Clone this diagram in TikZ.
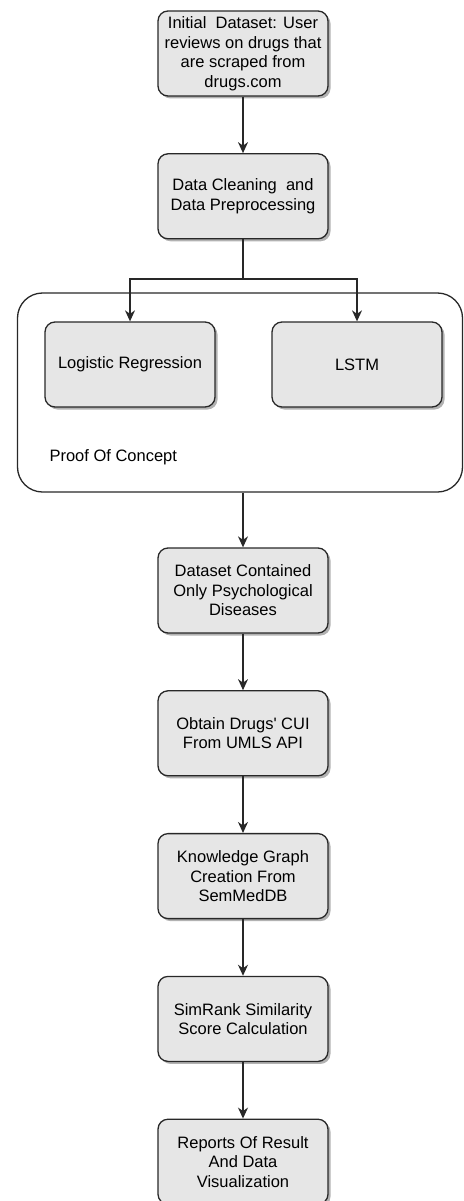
\documentclass[tikz,border=0pt]{standalone}
\usepackage{fontspec}
\setmainfont{Liberation Sans}
\usetikzlibrary{arrows.meta, positioning, shadows}
\definecolor{boxfill}{RGB}{230, 230, 230}
\definecolor{boxline}{RGB}{40, 40, 40}

\begin{document}
\begin{tikzpicture}[
            x=1pt, y=-1pt,
            node distance=56.5pt,
            block/.style={rectangle, rounded corners=10pt, draw=boxline, line width=1.3pt,
                          fill=boxfill, minimum width=170pt, minimum height=85pt,
                          inner sep=2pt, align=center,
                          font=\fontsize{16.5}{19.5}\selectfont,
                          drop shadow={shadow xshift=2.5pt, shadow yshift=-2.5pt,
                                       fill=black, opacity=0.3}},
            group/.style={rectangle, rounded corners=25pt, draw=boxline, line width=1.3pt,
                          minimum width=445pt, minimum height=199pt},
            arrow/.style={-{Stealth[length=11pt, width=10pt, inset=3.5pt]}, line width=1.3pt, draw=boxline},
        ]
            \useasboundingbox (0,0) rectangle (463,1201);
            \node[block] (data) at (243,53.5) {Initial\ \ Dataset: User\\reviews on drugs that\\are scraped from\\drugs.com};
            \node[block, below=of data] (clean) {Data Cleaning\ \ and\\Data Preprocessing};
            
            \node[group] (poc) at (240,392.5) {};
            \node[block] (logreg) at (130,364.5) {Logistic Regression};
            \node[block] (lstm) at (357,364.5) {LSTM};
            \node[anchor=west, font=\fontsize{16.5}{19.5}\selectfont] (poclabel) at (46,457) {Proof Of Concept};
            \coordinate (split) at (243,279);
            
            \node[block] (psych) at (243,590.5) {Dataset Contained\\Only Psychological\\Diseases};
            \node[block, below=of psych] (cui) {Obtain Drugs\textquotesingle{} CUI\\From UMLS API};
            \node[block, below=of cui] (graph) {Knowledge Graph\\Creation From\\SemMedDB};
            \node[block, below=of graph] (simrank) {SimRank Similarity\\Score Calculation};
            \node[block, below=of simrank] (report) {Reports Of Result\\And Data\\Visualization};
            
            \draw[arrow] (data) -- (clean);
            \draw[line width=1.3pt, draw=boxline] (clean) -- (split);
            \draw[arrow] (split) -| (logreg);
            \draw[arrow] (split) -| (lstm);
            \draw[arrow] (psych.north |- poc.south) -- (psych);
            \draw[arrow] (psych) -- (cui);
            \draw[arrow] (cui) -- (graph);
            \draw[arrow] (graph) -- (simrank);
            \draw[arrow] (simrank) -- (report);
        \end{tikzpicture}
\end{document}
